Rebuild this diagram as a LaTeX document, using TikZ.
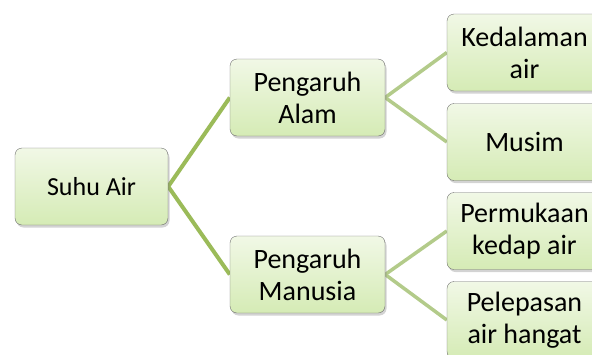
\documentclass[tikz,border=0pt]{standalone}
\usepackage{fontspec}
\setmainfont{Carlito}
\usetikzlibrary{shadows,backgrounds}
\definecolor{boxtop}{HTML}{F1F8E6}
\definecolor{boxbot}{HTML}{D5EBB5}
\definecolor{boxedge}{HTML}{6E6E6E}
\definecolor{linkgreen}{HTML}{9BBB59}
\definecolor{linklight}{HTML}{B3CB8A}

\begin{document}
\begin{tikzpicture}[
  x=1pt, y=-1pt,
  topic/.style={draw=boxedge, rounded corners=7pt, minimum width=155pt,
               minimum height=77pt, align=center, inner sep=2pt,
               top color=boxtop, bottom color=boxbot,
               drop shadow={shadow xshift=1.5pt, shadow yshift=-2.5pt, opacity=0.35},
               font=\fontsize{28}{32}\selectfont},
  link/.style={line width=4pt, linkgreen},
  sublink/.style={line width=3.5pt, linklight}
]
\useasboundingbox (0,0) rectangle (592,354);

\node[topic, minimum width=153pt, font=\fontsize{26}{30}\selectfont] (suhu) at (91.5,186.5) {Suhu Air};
\node[topic] (alam)    at (307.5,97.5)  {Pengaruh\\Alam};
\node[topic] (manusia) at (307.5,274.5) {Pengaruh\\Manusia};
\node[topic] (dalam)   at (524.5,52.5)  {Kedalaman\\air};
\node[topic] (musim)   at (524.5,142)   {Musim};
\node[topic] (kedap)   at (524.5,231)   {Permukaan\\kedap air};
\node[topic] (hangat)  at (524.5,320)   {Pelepasan\\air hangat};

\begin{scope}[on background layer]
\draw[link] (suhu.east) -- (alam.west);
\draw[link] (suhu.east) -- (manusia.west);
\draw[sublink] (alam.east) -- (dalam.west);
\draw[sublink] (alam.east) -- (musim.west);
\draw[sublink] (manusia.east) -- (kedap.west);
\draw[sublink] (manusia.east) -- (hangat.west);
\end{scope}

\end{tikzpicture}
\end{document}
